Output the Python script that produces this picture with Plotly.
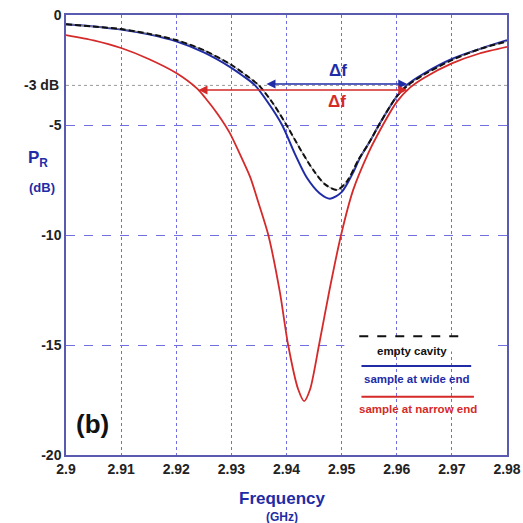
import plotly.graph_objects as go

# ---------------- data ----------------
freq_empty = [2.900, 2.905, 2.910, 2.915, 2.920, 2.925, 2.930, 2.933, 2.935, 2.9375,
              2.940, 2.9425, 2.945, 2.947, 2.9492, 2.951, 2.953, 2.955, 2.957,
              2.960, 2.962, 2.965, 2.970, 2.975, 2.980]
pr_empty = [-0.42, -0.52, -0.64, -0.85, -1.14, -1.6, -2.27, -2.8, -3.2, -4.0,
            -5.0, -6.1, -7.1, -7.7, -7.95, -7.55, -6.6, -5.8, -4.9,
            -3.7, -3.2, -2.7, -2.05, -1.55, -1.2]

freq_wide = [2.900, 2.905, 2.910, 2.915, 2.920, 2.925, 2.930, 2.932, 2.9343, 2.9367,
             2.9392, 2.9415, 2.9437, 2.946, 2.9479, 2.950, 2.952, 2.9533, 2.955, 2.957,
             2.960, 2.962, 2.965, 2.970, 2.975, 2.980]
pr_wide = [-0.42, -0.52, -0.66, -0.88, -1.2, -1.7, -2.4, -2.75, -3.2, -4.0,
           -5.0, -6.3, -7.4, -8.1, -8.35, -8.05, -7.2, -6.5, -5.8, -4.9,
           -3.7, -3.15, -2.65, -2.0, -1.55, -1.15]

freq_narrow = [2.900, 2.905, 2.910, 2.915, 2.920, 2.9238, 2.9252, 2.9275, 2.9297, 2.9315,
               2.9334, 2.9350, 2.9367, 2.9388, 2.9403, 2.9421, 2.9432, 2.9443, 2.9459,
               2.9478, 2.9499, 2.9521, 2.9548, 2.9564, 2.960, 2.9624, 2.965, 2.970,
               2.975, 2.980]
pr_narrow = [-0.91, -1.15, -1.5, -2.0, -2.64, -3.35, -3.75, -4.5, -5.36, -6.3,
             -7.36, -8.6, -10.0, -12.6, -15.0, -17.0, -17.55, -17.0, -15.0,
             -12.5, -10.0, -7.95, -6.3, -5.5, -3.95, -3.3, -2.85, -2.2,
             -1.75, -1.45]

x_ticks = [2.90, 2.91, 2.92, 2.93, 2.94, 2.95, 2.96, 2.97, 2.98]
x_tick_labels = ["2.9", "2.91", "2.92", "2.93", "2.94", "2.95", "2.96", "2.97", "2.98"]
y_ticks = [0, -5, -10, -15, -20]
y_tick_labels = ["0", "-5", "-10", "-15", "-20"]
level_3db = -3.2
df_wide = [2.9361, 2.9619, -3.14]
df_narrow = [2.92376, 2.9619, -3.41]

BLUE = "#1f2ca6"
RED = "#d42a2a"
BLACK = "#111111"
GRID = "#6f6fe0"
FRAME = "#5a5ab0"
FONT = "Liberation Sans, Arial, sans-serif"

fig = go.Figure()
fig.add_trace(go.Scatter(x=freq_narrow, y=pr_narrow, mode="lines",
                         line=dict(color=RED, width=1.8, shape="spline", smoothing=0.7)))
fig.add_trace(go.Scatter(x=freq_wide, y=pr_wide, mode="lines",
                         line=dict(color=BLUE, width=2, shape="spline", smoothing=0.8)))
fig.add_trace(go.Scatter(x=freq_empty, y=pr_empty, mode="lines",
                         line=dict(color="#888888", width=1, shape="spline", smoothing=0.8)))
fig.add_trace(go.Scatter(x=freq_empty, y=pr_empty, mode="lines",
                         line=dict(color=BLACK, width=2, dash="6px,3px", shape="spline", smoothing=0.8)))

# -3 dB reference line
fig.add_shape(type="line", xref="paper", x0=0, x1=1, yref="y", y0=level_3db, y1=level_3db,
              line=dict(color="#9a9a9a", width=1, dash="dot"), layer="below")
fig.add_annotation(xref="paper", x=0, y=level_3db, text="<b>-3 dB</b>", showarrow=False,
                   xanchor="right", xshift=-5, font=dict(size=14, color="#222", family=FONT))

# hide -15 gridline behind legend
fig.add_shape(type="rect", x0=2.9505, x1=2.9775, y0=-14.7, y1=-15.3, xref="x", yref="y",
              fillcolor="white", line=dict(width=0), layer="between")

# delta f arrows
for (a, b, yv), col in [(df_wide, BLUE), (df_narrow, RED)]:
    fig.add_annotation(x=b, y=yv, ax=a, ay=yv, xref="x", yref="y", axref="x", ayref="y",
                       text="", showarrow=True, arrowhead=2, arrowsize=1.2, arrowwidth=1.5,
                       arrowside="end+start", arrowcolor=col)
fig.add_annotation(x=2.9493, y=-2.5, text="<b>Δf</b>", showarrow=False,
                   font=dict(size=17, color=BLUE, family=FONT))
fig.add_annotation(x=2.9491, y=-3.95, text="<b>Δf</b>", showarrow=False,
                   font=dict(size=17, color=RED, family=FONT))

# custom legend
leg = [(BLACK, "dash", "empty cavity", -14.6, -15.25, 2.9532, 2.9722),
       (BLUE, "solid", "sample at wide end", -15.95, -16.55, 2.9536, 2.9735),
       (RED, "solid", "sample at narrow end", -17.35, -17.9, 2.9536, 2.974)]
for col, dash, label, yl, yt, x0, x1 in leg:
    fig.add_shape(type="line", x0=x0, x1=x1, y0=yl, y1=yl, xref="x", yref="y",
                  line=dict(color=col, width=2, dash=dash))
    fig.add_annotation(x=(x0 + x1) / 2, y=yt, text="<b>" + label + "</b>", showarrow=False,
                       font=dict(size=11.5, color=col, family=FONT))

fig.add_annotation(x=2.9015, y=-18.6, text="<b>(b)</b>", showarrow=False, xanchor="left",
                   font=dict(size=26, color="#111", family=FONT))

# axis titles
fig.add_annotation(xref="paper", yref="paper", x=0.49, y=-0.098, text="<b>Frequency</b>",
                   showarrow=False, yanchor="middle", font=dict(size=17, color=BLUE, family=FONT))
fig.add_annotation(xref="paper", yref="paper", x=0.49, y=-0.141, text="<b>(GHz)</b>",
                   showarrow=False, yanchor="middle", font=dict(size=12, color=BLUE, family=FONT))
fig.add_annotation(xref="paper", yref="paper", x=-0.09, y=0.672, yanchor="middle",
                   text="<b>P<sub>R</sub></b>", showarrow=False,
                   font=dict(size=17, color=BLUE, family=FONT))
fig.add_annotation(xref="paper", yref="paper", x=-0.088, y=0.608, yanchor="middle",
                   text="<b>(dB)</b>", showarrow=False, font=dict(size=13, color=BLUE, family=FONT))

fig.update_layout(
    width=523, height=523, showlegend=False,
    margin=dict(l=66, r=16, t=15, b=68),
    paper_bgcolor="white", plot_bgcolor="white",
    font=dict(family=FONT),
    xaxis=dict(range=[2.9, 2.98], tickvals=x_ticks, ticktext=x_tick_labels,
               showgrid=True, gridcolor=GRID, gridwidth=1, griddash="dot",
               showline=True, linecolor=FRAME, linewidth=1.5, mirror=True, automargin=False,
               ticks="", tickfont=dict(size=14, color="#222", family=FONT, weight="bold"),
               zeroline=False),
    yaxis=dict(range=[-20, 0], tickvals=y_ticks, ticktext=y_tick_labels,
               showgrid=True, gridcolor=GRID, gridwidth=1, griddash="dash",
               showline=True, linecolor=FRAME, linewidth=1.5, mirror=True, automargin=False,
               ticks="", tickfont=dict(size=14, color="#222", family=FONT, weight="bold"),
               zeroline=False),
)

fig.write_html("out.html", config={"displayModeBar": False})

# remove default page margin so the figure sits at the window's corner
with open("out.html", "r", encoding="utf-8") as fh:
    html = fh.read()
html = html.replace("<head>", "<head><style>body{margin:0;padding:0;overflow:hidden;}</style>", 1)
with open("out.html", "w", encoding="utf-8") as fh:
    fh.write(html)
